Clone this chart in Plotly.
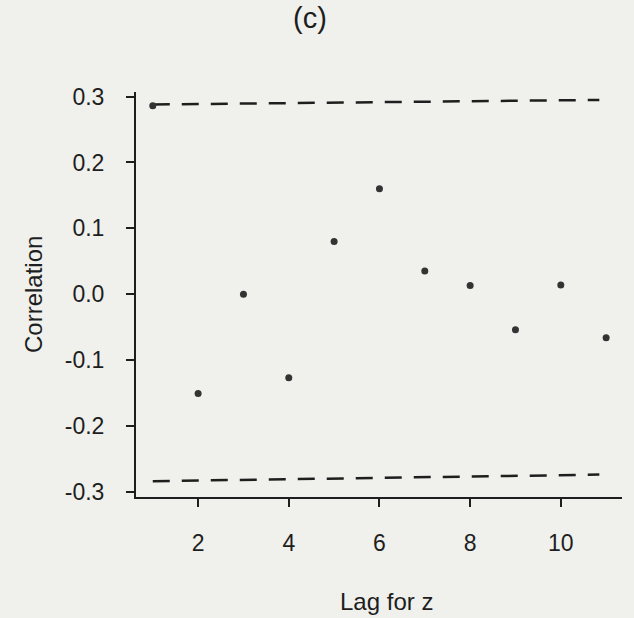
import plotly.graph_objects as go

# Data
lags = [1, 2, 3, 4, 5, 6, 7, 8, 9, 10, 11]
correlation = [0.286, -0.151, 0.0, -0.127, 0.080, 0.160, 0.035, 0.013, -0.054, 0.014, -0.066]
band_x = [1, 10.85]
upper_bound = [0.288, 0.295]
lower_bound = [-0.284, -0.274]
x_ticks = [2, 4, 6, 8, 10]
y_ticks = [-0.3, -0.2, -0.1, 0.0, 0.1, 0.2, 0.3]
y_tick_labels = ["-0.3", "-0.2", "-0.1", "0.0", "0.1", "0.2", "0.3"]

BG = "#f0f0ec"
INK = "#1e1e1e"
FONT = "Liberation Sans, Arial, sans-serif"

fig = go.Figure()
for yb in (upper_bound, lower_bound):
    fig.add_trace(go.Scatter(
        x=band_x, y=yb, mode="lines",
        line=dict(color=INK, width=2.5, dash="17px,12px"),
        hoverinfo="skip", showlegend=False))
fig.add_trace(go.Scatter(
    x=lags, y=correlation, mode="markers",
    marker=dict(color="#333333", size=7),
    showlegend=False))

L, R, T, B = 136, 12, 92, 121
W, H = 634, 618
pw, ph = W - L - R, H - T - B

def px_x(px):
    return (px - L) / pw

def px_y(py):
    return (H - B - py) / ph

fig.update_layout(
    width=W, height=H,
    margin=dict(l=L, r=R, t=T, b=B, pad=0),
    paper_bgcolor=BG, plot_bgcolor=BG,
    font=dict(family=FONT, color=INK),
    showlegend=False,
    xaxis=dict(range=[0.63, 11.35], tickvals=x_ticks, ticks="outside", ticklen=8,
               tickwidth=2, tickcolor=INK, showline=True, linecolor=INK, linewidth=2,
               showgrid=False, zeroline=False, tickfont=dict(size=23, color=INK),
               ticklabelstandoff=16),
    yaxis=dict(range=[-0.308, 0.307], tickvals=y_ticks, ticktext=y_tick_labels,
               ticks="outside", ticklen=8, tickwidth=2, tickcolor=INK,
               showline=True, linecolor=INK, linewidth=2, showgrid=False,
               zeroline=False, tickfont=dict(size=23, color=INK),
               ticklabelstandoff=17),
    annotations=[
        dict(text="(c)", xref="paper", yref="paper", x=px_x(310), y=px_y(18),
             xanchor="center", yanchor="middle", showarrow=False,
             font=dict(size=29, color=INK, family=FONT)),
        dict(text="Lag for z", xref="paper", yref="paper", x=px_x(386), y=px_y(601),
             xanchor="center", yanchor="middle", showarrow=False,
             font=dict(size=24, color=INK, family=FONT)),
        dict(text="Correlation", xref="paper", yref="paper", x=px_x(33), y=px_y(295),
             xanchor="center", yanchor="middle", showarrow=False, textangle=-90,
             font=dict(size=24, color=INK, family=FONT)),
    ],
)

fig.write_html("out.html")
